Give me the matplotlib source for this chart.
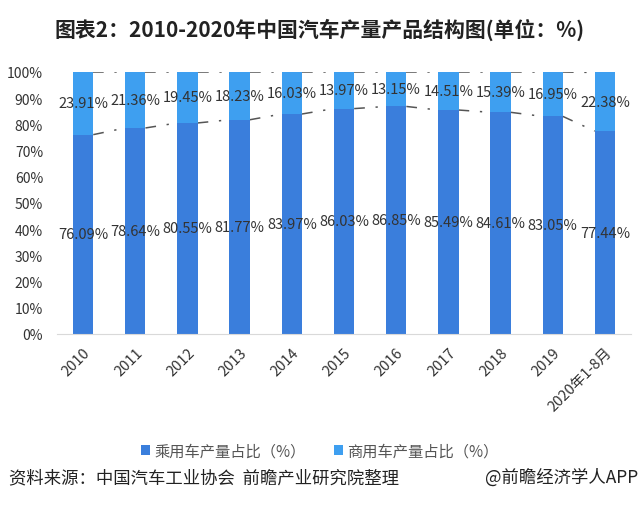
import numpy as np
import matplotlib.pyplot as plt

plt.rcParams['font.family'] = ['Noto Sans CJK SC', 'DejaVu Sans']

years = ['2010', '2011', '2012', '2013', '2014', '2015', '2016', '2017', '2018', '2019', '2020年1-8月']
passenger = [76.09, 78.64, 80.55, 81.77, 83.97, 86.03, 86.85, 85.49, 84.61, 83.05, 77.44]
commercial = [23.91, 21.36, 19.45, 18.23, 16.03, 13.97, 13.15, 14.51, 15.39, 16.95, 22.38]

c_pass = '#3a7edc'
c_comm = '#3e9ff0'
txt = '#333333'

fig = plt.figure(figsize=(6.4, 5.1), dpi=100)
ax = fig.add_axes([57 / 640, 1 - 335 / 510, 574 / 640, 262 / 510])

x = np.arange(len(years))
w = 0.39
pass_arr = np.array(passenger)
comm_arr = np.array(commercial)
ax.bar(x, pass_arr, w, color=c_pass, label='乘用车产量占比（%）', zorder=2)
ax.bar(x, comm_arr, w, bottom=pass_arr, color=c_comm, label='商用车产量占比（%）', zorder=2)

# series lines between bars
tops = pass_arr + comm_arr
dash = (0, (7, 7, 1.5, 7))
for i in range(len(x) - 1):
    ax.plot([x[i] + w / 2, x[i + 1] - w / 2], [pass_arr[i], pass_arr[i + 1]],
            color='#555555', lw=1.1, ls=dash, zorder=1)
    ax.plot([x[i] + w / 2, x[i + 1] - w / 2], [tops[i], tops[i + 1]],
            color='#555555', lw=1.1, ls=dash, zorder=1)

for i in range(len(x)):
    ax.text(x[i], pass_arr[i] / 2, f'{passenger[i]:.2f}%', ha='center', va='center',
            fontsize=10.5, color=txt, zorder=3)
    ax.text(x[i], pass_arr[i] + comm_arr[i] / 2, f'{commercial[i]:.2f}%', ha='center',
            va='center', fontsize=10.5, color=txt, zorder=3)

ax.set_xlim(-0.5, 10.5)
ax.set_ylim(0, 100)
ax.set_yticks(np.arange(0, 101, 10))
ax.set_yticklabels([f'{v}%' for v in range(0, 101, 10)], fontsize=10, color=txt)
ax.set_xticks(x)
ax.set_xticklabels(years, rotation=45, ha='right', rotation_mode='anchor', fontsize=10.5, color=txt)
ax.tick_params(axis='y', length=0, pad=10)
ax.tick_params(axis='x', length=0, pad=8)
for s in ['top', 'right', 'left']:
    ax.spines[s].set_visible(False)
ax.spines['bottom'].set_color('#d9d9d9')

fig.text(0.5, 1 - 30 / 510, '图表2：2010-2020年中国汽车产量产品结构图(单位：%)', ha='center', va='center',
         fontsize=15, fontweight='bold', color='#222222')

fig.legend(loc='center', bbox_to_anchor=(0.5, 1 - 452 / 510), ncol=2, frameon=False,
           fontsize=11, handlelength=0.6, handleheight=0.6, handletextpad=0.3, columnspacing=1.8,
           labelcolor='#555555')

fig.text(9 / 640, 1 - 478 / 510, '资料来源：中国汽车工业协会  前瞻产业研究院整理', ha='left', va='center',
         fontsize=12.5, color='#222222')
fig.text(638 / 640, 1 - 478 / 510, '@前瞻经济学人APP', ha='right', va='center',
         fontsize=12.5, color='#222222')

fig.savefig('out.png', dpi=100)
